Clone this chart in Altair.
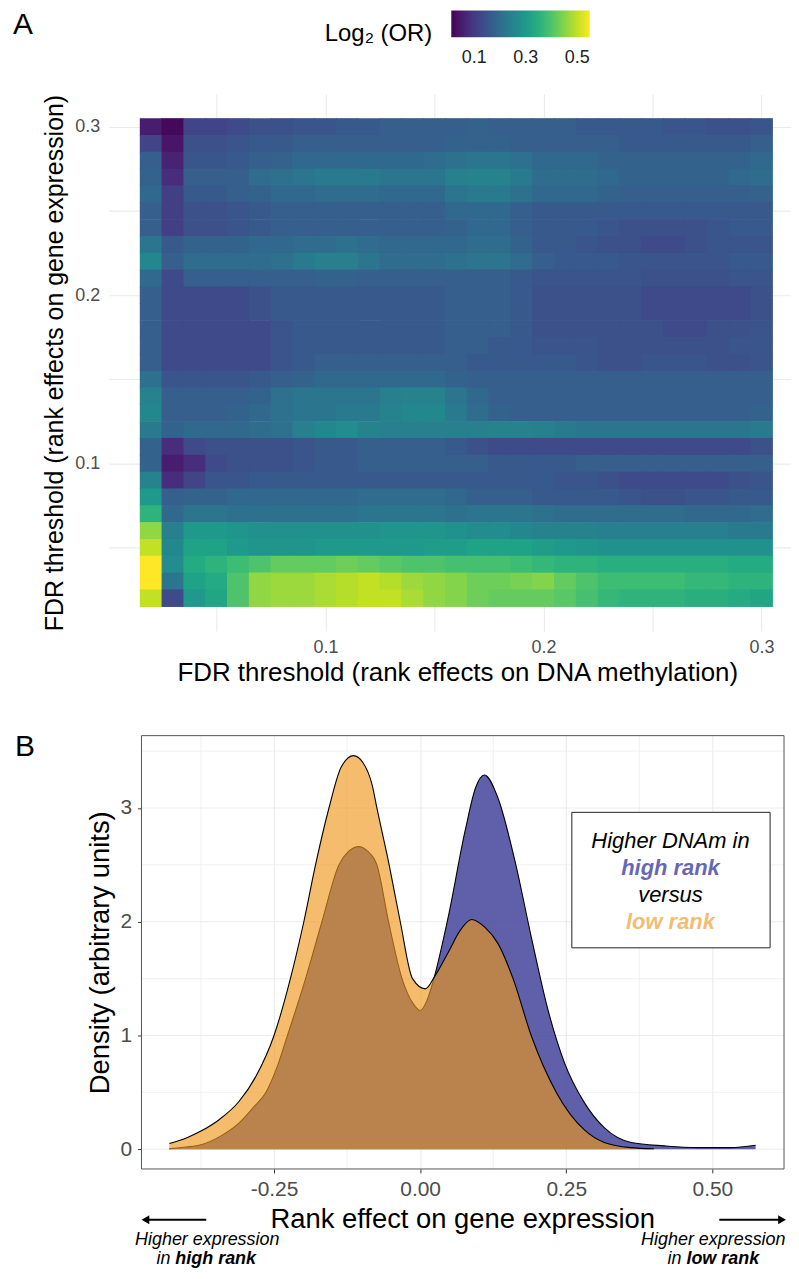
import altair as alt
import pandas as pd

FONT = "Liberation Sans"

# ---------------- Panel A data: log2(OR) on a grid of FDR thresholds ----------------
THRESH = [0.02, 0.03, 0.04, 0.05, 0.06, 0.07, 0.08, 0.09, 0.10, 0.11, 0.12, 0.13, 0.14, 0.15,
          0.16, 0.17, 0.18, 0.19, 0.20, 0.21, 0.22, 0.23, 0.24, 0.25, 0.26, 0.27, 0.28, 0.29, 0.30]

# rows from gene-expression FDR 0.30 (top) down to 0.02 (bottom); columns = methylation FDR 0.02 .. 0.30
LOG2OR_ROWS = [
    [.05,.02,.12,.12,.13,.14,.14,.15,.15,.16,.16,.17,.17,.17,.17,.18,.17,.17,.17,.17,.16,.16,.16,.16,.15,.15,.14,.14,.15],
    [.12,.04,.14,.14,.15,.16,.16,.17,.17,.17,.17,.17,.17,.17,.18,.18,.18,.17,.17,.17,.17,.17,.16,.16,.16,.16,.16,.16,.17],
    [.17,.06,.15,.15,.16,.17,.18,.19,.19,.19,.19,.19,.19,.20,.21,.22,.22,.21,.19,.19,.19,.18,.18,.18,.18,.18,.18,.18,.19],
    [.18,.08,.17,.17,.17,.20,.21,.22,.23,.23,.23,.22,.22,.22,.24,.25,.25,.23,.20,.20,.20,.19,.18,.18,.18,.18,.18,.19,.20],
    [.19,.11,.16,.16,.17,.18,.19,.19,.20,.20,.20,.19,.19,.19,.22,.23,.23,.21,.19,.19,.19,.18,.17,.17,.17,.17,.17,.17,.18],
    [.17,.11,.14,.14,.15,.16,.17,.17,.17,.17,.17,.17,.17,.17,.19,.19,.19,.17,.16,.16,.16,.16,.16,.16,.16,.16,.16,.16,.16],
    [.17,.11,.14,.14,.15,.16,.17,.17,.17,.17,.17,.17,.17,.17,.18,.19,.19,.17,.16,.16,.16,.15,.14,.14,.14,.14,.15,.16,.16],
    [.22,.16,.18,.18,.18,.19,.19,.20,.20,.21,.20,.19,.19,.19,.19,.20,.20,.18,.16,.16,.15,.14,.14,.13,.13,.14,.15,.15,.15],
    [.26,.17,.20,.20,.20,.20,.21,.23,.24,.24,.22,.20,.20,.20,.21,.22,.22,.20,.17,.16,.16,.16,.15,.15,.15,.15,.15,.16,.16],
    [.19,.13,.17,.17,.17,.17,.17,.17,.18,.18,.17,.17,.17,.17,.17,.17,.17,.16,.15,.15,.15,.15,.15,.14,.14,.14,.14,.15,.15],
    [.17,.13,.13,.13,.13,.14,.16,.16,.16,.16,.16,.16,.16,.16,.17,.17,.17,.16,.14,.14,.14,.14,.14,.13,.13,.13,.13,.13,.14],
    [.17,.13,.13,.13,.13,.14,.16,.16,.16,.16,.16,.16,.16,.16,.17,.17,.17,.16,.14,.14,.14,.14,.14,.13,.13,.13,.13,.13,.14],
    [.17,.13,.13,.13,.13,.13,.15,.16,.16,.16,.16,.16,.16,.16,.17,.17,.17,.16,.14,.14,.14,.14,.14,.14,.13,.13,.14,.14,.15],
    [.17,.13,.13,.13,.13,.13,.15,.16,.16,.16,.16,.16,.16,.16,.17,.17,.16,.16,.15,.15,.15,.14,.14,.14,.14,.14,.14,.15,.15],
    [.17,.13,.13,.13,.13,.13,.15,.16,.17,.17,.17,.17,.17,.17,.17,.16,.16,.16,.16,.16,.15,.14,.14,.15,.15,.15,.14,.14,.15],
    [.21,.15,.15,.15,.15,.16,.17,.18,.19,.19,.19,.19,.19,.19,.18,.17,.17,.17,.17,.17,.17,.17,.17,.17,.17,.17,.17,.17,.17],
    [.25,.17,.17,.17,.17,.18,.21,.22,.22,.22,.22,.24,.25,.25,.22,.19,.17,.17,.17,.17,.17,.17,.17,.17,.17,.17,.17,.17,.17],
    [.26,.17,.17,.17,.18,.19,.21,.22,.22,.23,.23,.25,.26,.26,.23,.20,.18,.17,.17,.17,.17,.17,.17,.17,.17,.17,.17,.17,.18],
    [.23,.18,.19,.19,.19,.20,.21,.24,.26,.27,.25,.24,.24,.24,.24,.24,.25,.25,.24,.23,.22,.22,.22,.22,.22,.22,.22,.22,.23],
    [.18,.08,.13,.14,.14,.14,.14,.15,.16,.16,.17,.17,.17,.17,.16,.14,.13,.13,.13,.13,.13,.13,.13,.13,.13,.13,.13,.13,.14],
    [.18,.05,.08,.13,.14,.14,.14,.15,.16,.16,.17,.17,.17,.17,.17,.17,.16,.16,.16,.16,.17,.17,.17,.17,.17,.17,.17,.17,.17],
    [.25,.08,.12,.15,.15,.16,.16,.16,.16,.16,.16,.16,.16,.16,.16,.16,.16,.16,.16,.15,.15,.14,.13,.13,.13,.13,.13,.14,.15],
    [.30,.17,.18,.18,.19,.19,.19,.19,.19,.19,.20,.20,.20,.20,.19,.17,.17,.17,.16,.16,.16,.16,.15,.14,.14,.15,.15,.16,.16],
    [.36,.19,.22,.22,.21,.21,.21,.21,.21,.21,.22,.22,.22,.22,.21,.22,.22,.22,.21,.20,.20,.20,.20,.20,.20,.19,.19,.19,.20],
    [.46,.24,.30,.30,.29,.28,.28,.28,.28,.28,.28,.29,.29,.29,.28,.27,.27,.26,.25,.25,.25,.24,.24,.24,.24,.24,.24,.23,.23],
    [.50,.26,.32,.32,.30,.29,.29,.29,.30,.30,.30,.30,.30,.31,.31,.32,.32,.32,.31,.30,.29,.28,.28,.28,.28,.28,.28,.28,.28],
    [.55,.27,.34,.36,.38,.40,.42,.42,.42,.43,.42,.41,.40,.40,.39,.39,.39,.38,.37,.36,.36,.35,.35,.35,.35,.35,.35,.34,.34],
    [.55,.22,.32,.34,.40,.46,.47,.47,.48,.49,.50,.49,.47,.46,.45,.43,.43,.44,.45,.42,.40,.38,.38,.38,.38,.37,.37,.36,.36],
    [.50,.13,.30,.33,.40,.46,.47,.47,.48,.49,.50,.50,.48,.46,.45,.43,.42,.42,.42,.41,.39,.37,.36,.36,.36,.35,.35,.34,.33],
]
COLOR_RANGE = [0.011, 0.549]
LEGEND_TICKS = [0.1, 0.3, 0.5]
TILE_HALF = 0.0052   # half tile width (slight overlap hides seams between tiles)

# ---------------- Panel B data: densities of rank effects ----------------
LOW_X = [-0.429, -0.40, -0.375, -0.344, -0.31, -0.28, -0.25, -0.222, -0.199, -0.179, -0.156, -0.135,
         -0.114, -0.098, -0.082, -0.074, -0.053, -0.034, -0.013, 0.009, 0.025, 0.048, 0.068, 0.088,
         0.111, 0.133, 0.159, 0.19, 0.233, 0.281, 0.315, 0.36, 0.40]
LOW_Y = [0.05, 0.10, 0.16, 0.26, 0.42, 0.65, 1.0, 1.5, 2.0, 2.5, 3.0, 3.36,
         3.46, 3.40, 3.20, 3.0, 2.5, 2.0, 1.5, 1.41, 1.52, 1.73, 1.92, 2.02,
         1.95, 1.81, 1.5, 1.0, 0.5, 0.17, 0.06, 0.015, 0.005]

HIGH_X = [-0.429, -0.40, -0.375, -0.34, -0.31, -0.285, -0.264, -0.245, -0.227, -0.196, -0.168, -0.139,
          -0.122, -0.105, -0.09, -0.074, -0.054, -0.031, -0.012, 0.0, 0.011, 0.023, 0.048, 0.077,
          0.095, 0.11, 0.133, 0.162, 0.19, 0.219, 0.247, 0.281, 0.315, 0.361, 0.418, 0.474, 0.531, 0.574]
HIGH_Y = [0.006, 0.02, 0.04, 0.12, 0.23, 0.37, 0.5, 0.72, 1.0, 1.5, 2.0, 2.5,
          2.62, 2.66, 2.62, 2.5, 2.0, 1.5, 1.28, 1.22, 1.30, 1.49, 2.04, 2.80,
          3.18, 3.29, 3.09, 2.54, 1.87, 1.22, 0.76, 0.41, 0.19, 0.06, 0.03, 0.015, 0.015, 0.035]

MAJOR_X_B = [-0.25, 0, 0.25, 0.5]
MAJOR_Y_B = [0, 1, 2, 3]
MINOR_GRID_X = [-0.375, -0.125, 0.125, 0.375]
MINOR_GRID_Y = [0.5, 1.5, 2.5, 3.5]

# ---------------- build tables ----------------
heat_records = []
n = len(THRESH)
for r, row in enumerate(LOG2OR_ROWS):
    yv = THRESH[n - 1 - r]
    for xv, v in zip(THRESH, row):
        heat_records.append({"x0": xv - TILE_HALF, "x1": xv + TILE_HALF,
                             "y0": yv - TILE_HALF, "y1": yv + TILE_HALF, "v": v})
heat_df = pd.DataFrame(heat_records)

low_df = pd.DataFrame({"x": LOW_X, "d": LOW_Y})
high_df = pd.DataFrame({"x": HIGH_X, "d": HIGH_Y})
dummy = pd.DataFrame({"k": [0]})


def txt(text, x, y, size, **kw):
    return alt.Chart(dummy).mark_text(text=text, fontSize=size, font=FONT, **kw).encode(
        x=alt.value(x), y=alt.value(y))


# ---------------- Panel A ----------------
minor_label = "round(datum.value*100) % 10 == 0 ? format(datum.value, '.1f') : ''"
xsA = alt.Scale(domain=[0.0005, 0.3135], nice=False, zero=False)
ysA = alt.Scale(domain=[0.0005, 0.3195], nice=False, zero=False)
cscale = alt.Scale(scheme="viridis", domain=COLOR_RANGE)

axis_common_A = dict(ticks=False, domain=False, grid=True, gridColor="#EBEBEB", gridWidth=1.1,
                     labelFont=FONT, labelFontSize=18, labelColor="#4D4D4D",
                     titleFont=FONT, titleFontWeight="normal", titleColor="black",
                     labelOverlap=False, labelFlush=False, labelExpr=minor_label,
                     values=[0.05, 0.1, 0.15, 0.2, 0.25, 0.3])

heat = alt.Chart(heat_df).mark_rect().encode(
    x=alt.X("x0:Q", scale=xsA,
            axis=alt.Axis(title="FDR threshold (rank effects on DNA methylation)", titleX=350,
                          titleFontSize=26, labelPadding=8, titlePadding=3, **axis_common_A)),
    x2="x1",
    y=alt.Y("y0:Q", scale=ysA,
            axis=alt.Axis(title="FDR threshold (rank effects on gene expression)",
                          titleFontSize=25, labelPadding=9, titlePadding=7, **axis_common_A)),
    y2="y1",
    color=alt.Color("v:Q", scale=cscale,
                    legend=alt.Legend(type="gradient", orient="none", legendX=344, legendY=-84,
                                      direction="horizontal", title=None,
                                      gradientLength=139, gradientThickness=27, gradientStrokeWidth=0,
                                      labelFont=FONT, labelFontSize=18, labelColor="#222222",
                                      labelOffset=12, values=LEGEND_TICKS)),
)

legend_title = txt("Log\u2082 (OR)", 217, -60, 24, align="left", baseline="middle", color="black")
letterA = txt("A", -96, -84, 30, align="left", baseline="top", color="black")

panelA = alt.layer(heat, legend_title, letterA).properties(width=685, height=539)

# ---------------- Panel B ----------------
# plot area starts at the same left edge as panel A; the framed panel starts 33 px further right
B_LEFT = 33
B_W = 678
B_H = 435
xsB = alt.Scale(domain=[-0.533, 0.6226], nice=False, zero=False)
ysB = alt.Scale(domain=[-0.173, 3.636], nice=False, zero=False)

axis_common_B = dict(domain=False, ticks=True, tickSize=4, tickColor="#333333", tickWidth=1,
                     labelFont=FONT, labelFontSize=21, labelColor="#4D4D4D",
                     titleFont=FONT, titleFontSize=27.5, titleFontWeight="normal", titleColor="black",
                     labelOverlap=False, labelFlush=False)

xaxisB = alt.Axis(title="Rank effect on gene expression", values=MAJOR_X_B, titleX=B_LEFT + 322,
                  labelExpr="replace(format(datum.value, '.2f'), '\u2212', '-')",
                  grid=True, gridColor="#EBEBEB", gridWidth=1.1,
                  labelPadding=6, titlePadding=6, **axis_common_B)
yaxisB = alt.Axis(title="Density (arbitrary units)", values=MAJOR_Y_B, format="d", offset=-B_LEFT,
                  grid=False, labelPadding=6, titlePadding=5, **axis_common_B)

enc_x = alt.X("x:Q", scale=xsB, axis=xaxisB)
enc_y = alt.Y("d:Q", scale=ysB, axis=yaxisB)

gx = alt.Chart(pd.DataFrame({"x": MINOR_GRID_X})).mark_rule(color="#EEEEEE", strokeWidth=0.8).encode(
    x=enc_x)
gy_minor = alt.Chart(pd.DataFrame({"d": MINOR_GRID_Y})).mark_rule(color="#EEEEEE", strokeWidth=0.8).encode(
    y=enc_y, x=alt.value(B_LEFT), x2=alt.value(B_W))
gy_major = alt.Chart(pd.DataFrame({"d": MAJOR_Y_B})).mark_rule(color="#EBEBEB", strokeWidth=1.1).encode(
    y=enc_y, x=alt.value(B_LEFT), x2=alt.value(B_W))

high_area = alt.Chart(high_df).mark_area(color="#44439B", opacity=0.85, interpolate="monotone").encode(
    x=enc_x, y=enc_y, y2=alt.datum(0))
high_line = alt.Chart(high_df).mark_line(color="black", strokeWidth=1.1, interpolate="monotone").encode(
    x=enc_x, y=enc_y)
low_area = alt.Chart(low_df).mark_area(color="#EE9619", opacity=0.64, interpolate="monotone").encode(
    x=enc_x, y=enc_y, y2=alt.datum(0))
low_line = alt.Chart(low_df).mark_line(color="black", strokeWidth=1.1, interpolate="monotone").encode(
    x=enc_x, y=enc_y)

frame = alt.Chart(dummy).mark_rect(fillOpacity=0, stroke="#555555", strokeWidth=1).encode(
    x=alt.value(B_LEFT), x2=alt.value(B_W), y=alt.value(0), y2=alt.value(B_H))

legend_box = alt.Chart(dummy).mark_rect(fill="white", stroke="#222222", strokeWidth=1).encode(
    x=alt.value(465), x2=alt.value(664), y=alt.value(77), y2=alt.value(213))
box_t1 = txt("Higher DNAm in", 564, 106, 22, fontStyle="italic", align="center", baseline="middle", color="black")
box_t2 = txt("high rank", 564, 133, 22, fontStyle="italic", fontWeight="bold", align="center",
             baseline="middle", color="#6767B5")
box_t3 = txt("versus", 564, 160, 22, fontStyle="italic", align="center", baseline="middle", color="black")
box_t4 = txt("low rank", 564, 187, 22, fontStyle="italic", fontWeight="bold", align="center",
             baseline="middle", color="#F2BD72")

arrow_l = alt.Chart(dummy).mark_rule(color="black", strokeWidth=2).encode(
    x=alt.value(39), x2=alt.value(98), y=alt.value(486))
head_l = alt.Chart(dummy).mark_point(shape="triangle-left", filled=True, color="black", opacity=1,
                                     size=80).encode(x=alt.value(37), y=alt.value(486))
arrow_r = alt.Chart(dummy).mark_rule(color="black", strokeWidth=2).encode(
    x=alt.value(613), x2=alt.value(674), y=alt.value(486))
head_r = alt.Chart(dummy).mark_point(shape="triangle-right", filled=True, color="black", opacity=1,
                                     size=80).encode(x=alt.value(676), y=alt.value(486))

cap_l1 = txt("Higher expression", 99, 506, 18, fontStyle="italic", align="center", baseline="middle", color="black")
cap_l2a = txt("in", 62, 525, 18, fontStyle="italic", align="right", baseline="middle", color="black")
cap_l2b = txt("high rank", 67, 525, 18, fontStyle="italic", fontWeight="bold", align="left",
              baseline="middle", color="black")
cap_r1 = txt("Higher expression", 607, 506, 18, fontStyle="italic", align="center", baseline="middle", color="black")
cap_r2a = txt("in", 575, 525, 18, fontStyle="italic", align="right", baseline="middle", color="black")
cap_r2b = txt("low rank", 580, 525, 18, fontStyle="italic", fontWeight="bold", align="left",
              baseline="middle", color="black")

letterB = txt("B", -94, -4, 30, align="left", baseline="top", color="black")

panelB = alt.layer(
    gx, gy_minor, gy_major, high_area, high_line, low_area, low_line, frame,
    legend_box, box_t1, box_t2, box_t3, box_t4,
    arrow_l, head_l, arrow_r, head_r,
    cap_l1, cap_l2a, cap_l2b, cap_r1, cap_r2a, cap_r2b, letterB,
).properties(width=B_W, height=B_H)

chart = alt.vconcat(panelA, panelB, spacing=46).properties(
    padding={"left": 5, "top": 0, "right": 0, "bottom": 0}
).configure(font=FONT).configure_view(strokeWidth=0)

chart.save("out.html", embed_options={"renderer": "svg", "actions": False})
